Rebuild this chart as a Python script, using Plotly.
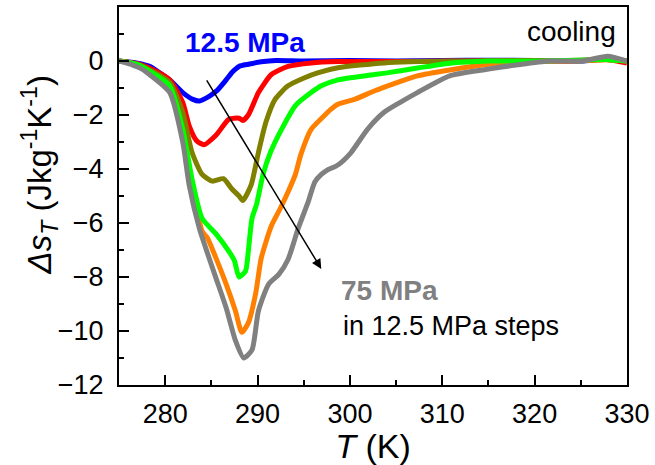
import plotly.graph_objects as go

# ---- data (T in K, Delta s_T in J kg^-1 K^-1) ----
T_125 = [275, 277, 278.3, 280.5, 281.9, 283.0, 283.7, 284.8, 285.6, 286.6, 287.3, 288.0, 289.0, 290.4, 292, 295, 300, 305, 310, 315, 320, 325, 328, 330]
s_125 = [0, -0.08, -0.2, -0.7, -1.17, -1.42, -1.48, -1.3, -1.1, -0.7, -0.4, -0.2, -0.12, -0.03, 0.02, 0.0, 0.02, 0.0, 0.02, 0.03, 0.02, 0.0, 0.08, 0.0]

T_250 = [275, 277, 278.3, 280.5, 281.9, 282.6, 283.4, 284.2, 285.5, 286.9, 288.0, 288.4, 289.0, 290.1, 291.5, 293.3, 295.8, 298.7, 305, 312, 318, 324, 328, 330]
s_250 = [0, -0.1, -0.26, -0.7, -1.54, -2.4, -2.95, -3.1, -2.75, -2.16, -2.12, -2.2, -2.0, -1.17, -0.5, -0.2, -0.07, -0.02, -0.02, 0.0, 0.02, 0.0, 0.05, -0.08]

T_375 = [275, 277, 278.3, 280.5, 281.9, 282.9, 284.0, 285.1, 286.3, 287.2, 288.0, 288.4, 289.3, 290.1, 290.9, 291.9, 293.3, 295.1, 296.5, 298.7, 303.7, 310.8, 320, 328, 330]
s_375 = [0, -0.12, -0.33, -0.8, -1.9, -3.38, -4.2, -4.45, -4.36, -4.73, -5.0, -5.17, -4.6, -3.38, -2.27, -1.42, -0.92, -0.62, -0.44, -0.25, -0.07, 0.0, 0.0, 0.05, 0.0]

T_500 = [275, 277, 278.3, 280.5, 281.9, 282.9, 284.0, 285.5, 286.9, 287.5, 288.0, 288.7, 289.0, 289.4, 289.9, 290.6, 291.4, 292.6, 294.1, 295.8, 296.9, 298.7, 300.5, 304.0, 307.3, 310.8, 315, 320, 328, 330]
s_500 = [0, -0.13, -0.37, -0.92, -2.53, -4.36, -5.83, -6.4, -7.05, -7.4, -8.0, -7.78, -7.05, -5.83, -5.3, -4.2, -3.38, -2.53, -1.65, -1.17, -0.92, -0.7, -0.6, -0.44, -0.26, -0.08, 0, 0, 0.05, 0]

T_625 = [275, 277, 278.3, 280.5, 281.9, 282.9, 284.0, 284.6, 285.5, 286.6, 287.6, 288.3, 289.0, 289.8, 290.4, 291.5, 292.4, 293.3, 294.1, 294.7, 295.8, 297.3, 297.9, 298.7, 300.5, 302.7, 305.1, 307.3, 310.8, 314.4, 318, 324, 328, 330]
s_625 = [0, -0.15, -0.44, -1.05, -2.75, -4.6, -6.3, -6.57, -7.3, -8.26, -9.25, -10.05, -9.7, -8.6, -7.3, -6.1, -5.5, -4.85, -4.2, -3.45, -2.53, -2.0, -1.8, -1.6, -1.42, -1.1, -0.8, -0.55, -0.33, -0.15, -0.02, 0, 0.05, 0]

T_750 = [275, 276.5, 277.5, 278.3, 280.5, 281.9, 282.6, 283.7, 284.4, 285.5, 286.6, 287.6, 288.5, 289.4, 290.1, 291.2, 292.3, 293.3, 294.4, 295.5, 296.2, 296.9, 297.5, 298.7, 300.1, 301.9, 303.7, 305.4, 307.3, 310.8, 314.4, 318, 321.5, 325.2, 327.9, 330]
s_750 = [0, -0.15, -0.3, -0.5, -1.17, -3.0, -4.6, -6.2, -6.94, -8.04, -9.14, -10.35, -11.0, -10.7, -9.25, -8.26, -7.9, -7.35, -6.2, -5.2, -4.48, -4.2, -4.05, -3.85, -3.4, -2.53, -1.9, -1.54, -1.17, -0.55, -0.33, -0.15, 0, 0, 0.18, 0]

series = [
    ("12.5 MPa", T_125, s_125, "#0000ff"),
    ("25 MPa", T_250, s_250, "#ff0000"),
    ("37.5 MPa", T_375, s_375, "#808000"),
    ("62.5 MPa", T_625, s_625, "#ff8000"),
    ("50 MPa", T_500, s_500, "#00ff00"),
    ("75 MPa", T_750, s_750, "#808080"),
]

y_ticks = [0, -2, -4, -6, -8, -10, -12]
x_ticks = [280, 290, 300, 310, 320, 330]

FONT = "Liberation Sans, Arial, sans-serif"

fig = go.Figure()
for name, t, s, c in series:
    fig.add_trace(go.Scatter(x=t, y=s, mode="lines", name=name,
                             line=dict(color=c, width=5, shape="spline", smoothing=0.6),
                             showlegend=False))

fig.update_layout(
    width=655, height=465,
    margin=dict(l=119, r=23, t=5, b=80),
    paper_bgcolor="white", plot_bgcolor="white",
    font=dict(family=FONT, color="black", size=27),
)

fig.update_xaxes(
    range=[275, 330], tickvals=x_ticks, ticks="inside", ticklen=10, tickwidth=2,
    tickcolor="black", showline=True, linewidth=2, linecolor="black", mirror=True,
    showgrid=False, zeroline=False, tickfont=dict(size=27, family=FONT),
    ticklabelstandoff=4,
    minor=dict(tickmode="linear", tick0=275, dtick=10, ticks="inside", ticklen=5, tickwidth=2, tickcolor="black", showgrid=False),
    title=dict(text="<i>T</i> (K)", font=dict(size=34, family=FONT), standoff=0),
)
fig.update_yaxes(
    range=[-12, 2], tickvals=y_ticks, ticks="inside", ticklen=10, tickwidth=2,
    tickcolor="black", showline=True, linewidth=2, linecolor="black", mirror=True,
    showgrid=False, zeroline=False, tickfont=dict(size=27, family=FONT),
    ticklabelstandoff=8,
    minor=dict(tickmode="linear", tick0=-11, dtick=2, ticks="inside", ticklen=5, tickwidth=2, tickcolor="black", showgrid=False),
)

# y-axis title
fig.add_annotation(xref="paper", yref="paper", x=-0.157, y=0.555, xanchor="center", yanchor="middle",
                   textangle=-90, showarrow=False,
                   text="<i>Δs</i><sub><i>T</i></sub> (Jkg<sup>-1</sup>K<sup>-1</sup>)",
                   font=dict(size=33, family=FONT, color="black"))

# arrow
fig.add_annotation(x=296.9, y=-7.7, ax=284.4, ay=-0.66, xref="x", yref="y", axref="x", ayref="y",
                   text="", showarrow=True, arrowhead=2, arrowsize=1.3, arrowwidth=1.5,
                   arrowcolor="black", standoff=0, startstandoff=0)

fig.add_annotation(x=288.6, y=0.68, xref="x", yref="y", text="<b>12.5 MPa</b>", showarrow=False,
                   xanchor="center", yanchor="middle", font=dict(size=28, family=FONT, color="#0000ff"))
fig.add_annotation(x=329.0, y=1.1, xref="x", yref="y", text="cooling", showarrow=False,
                   xanchor="right", yanchor="middle", font=dict(size=28, family=FONT, color="black"))
fig.add_annotation(x=298.8, y=-8.5, xref="x", yref="y", text="<b>75 MPa</b>", showarrow=False,
                   xanchor="left", yanchor="middle", font=dict(size=28, family=FONT, color="#808080"))
fig.add_annotation(x=299.0, y=-9.83, xref="x", yref="y", text="in 12.5 MPa steps", showarrow=False,
                   xanchor="left", yanchor="middle", font=dict(size=27, family=FONT, color="black"))

fig.write_html("out.html")
